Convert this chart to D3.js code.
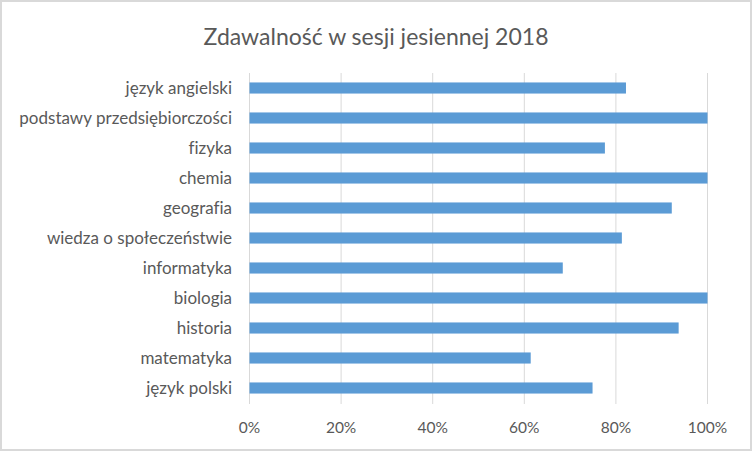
<!DOCTYPE html>
<html>
<head>
<meta charset="utf-8">
<script src="https://cdn.jsdelivr.net/npm/d3@7"></script>
<style>
  body { margin: 0; background: #fff; }
  text { font-family: Lato, "Open Sans", sans-serif; fill: #595959; font-variant-ligatures: none; }
</style>
</head>
<body>
<div id="chart"></div>
<script>
// subjects, top to bottom as drawn
var subjects = ['język angielski', 'podstawy przedsiębiorczości', 'fizyka', 'chemia',
    'geografia', 'wiedza o społeczeństwie', 'informatyka', 'biologia',
    'historia', 'matematyka', 'język polski'];
var passRate = [0.822, 1.0, 0.776, 1.0, 0.922, 0.813, 0.684, 1.0, 0.937, 0.614, 0.749];
var ticks = [0, 0.2, 0.4, 0.6, 0.8, 1.0];
var title = 'Zdawalność w sesji jesiennej 2018';

var width = 752, height = 452;

var svg = d3.select('#chart').append('svg')
    .attr('width', width)
    .attr('height', height);

// outer frame
svg.append('rect')
    .attr('x', 1).attr('y', 1)
    .attr('width', width - 2).attr('height', height - 3)
    .attr('fill', '#fff')
    .attr('stroke', '#d9d9d9')
    .attr('stroke-width', 2);

svg.append('text')
    .attr('x', 376)
    .attr('y', 45)
    .attr('text-anchor', 'middle')
    .attr('font-size', '23px')
    .text(title);

var x = d3.scaleLinear().domain([0, 1]).range([249.5, 707.5]);
var y = d3.scaleBand().domain(subjects).range([73, 403]).paddingInner(0.63).paddingOuter(0.315);

// gridlines
svg.append('g')
    .selectAll('line')
    .data(ticks)
    .enter()
    .append('line')
    .attr('x1', function(d) { return x(d); })
    .attr('x2', function(d) { return x(d); })
    .attr('y1', 73)
    .attr('y2', 404)
    .attr('stroke', '#d9d9d9')
    .attr('stroke-width', 1);

svg.append('g')
    .selectAll('rect')
    .data(passRate)
    .enter()
    .append('rect')
    .attr('x', x(0))
    .attr('y', function(d, i) { return y(subjects[i]); })
    .attr('width', function(d) { return x(d) - x(0); })
    .attr('height', y.bandwidth())
    .attr('fill', '#5b9bd5');

// category labels
svg.append('g')
    .selectAll('text')
    .data(subjects)
    .enter()
    .append('text')
    .attr('x', 232)
    .attr('y', function(d) { return y(d) + y.bandwidth() / 2; })
    .attr('dy', '0.35em')
    .attr('text-anchor', 'end')
    .attr('font-size', '17px')
    .text(function(d) { return d; });

// tick labels
svg.append('g')
    .selectAll('text')
    .data(ticks)
    .enter()
    .append('text')
    .attr('x', function(d) { return x(d); })
    .attr('y', 433)
    .attr('text-anchor', 'middle')
    .attr('font-size', '15.5px')
    .text(d3.format('.0%'));
</script>
</body>
</html>
